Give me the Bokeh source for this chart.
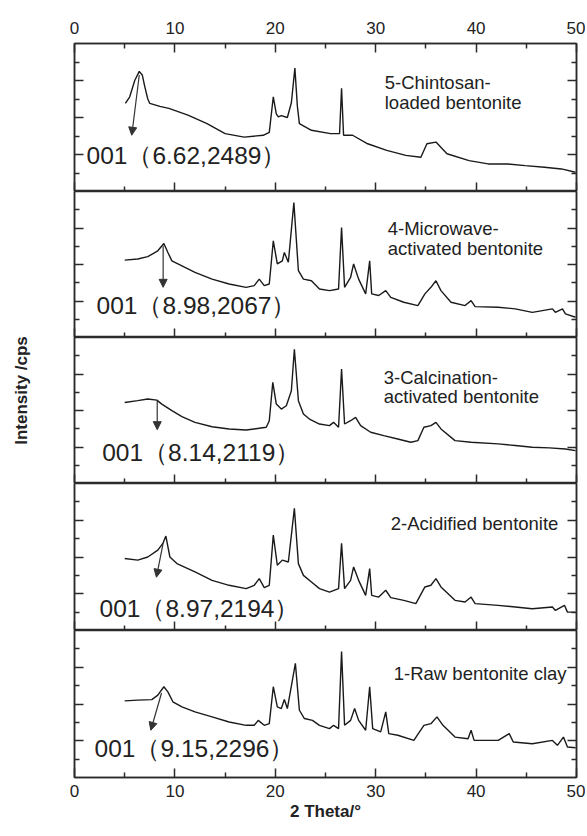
import math
from bokeh.plotting import figure
from bokeh.layouts import column, row
from bokeh.models import FixedTicker, LinearAxis, Label, Arrow, NormalHead, Range1d
from bokeh.embed import file_html
from bokeh.resources import INLINE

# ---------------- data ----------------
X_MAJOR = [0, 10, 20, 30, 40, 50]
X_MINOR = [5, 15, 25, 35, 45]
Y_MAJOR = [2, 4, 6]
Y_MINOR = [1, 3, 5, 7]

# 5 - Chitosan-loaded bentonite (top panel)
theta5 = [5.07, 5.5, 6.0, 6.45, 6.75, 7.0, 7.3, 7.5, 8.5, 9.4, 11.3, 13.2, 15.0, 16.9, 18.8,
          19.4, 19.8, 20.1, 20.3, 20.6, 21.2, 21.6, 21.95, 22.2, 22.4, 23.6, 25.5, 26.4, 26.6,
          26.8, 27.7, 29.2, 31.1, 33.0, 34.5, 35.1, 36.0, 37.1, 39.3, 41.2, 43.1, 44.9, 46.8,
          48.5, 49.9]
inten5 = [4.76, 5.12, 6.0, 6.49, 6.3, 5.67, 5.0, 4.76, 4.6, 4.49, 4.13, 3.67, 3.13, 2.94, 3.04,
          3.2, 5.12, 4.2, 4.03, 4.1, 4.0, 4.8, 6.67, 4.6, 3.67, 3.31, 3.13, 3.13, 5.58,
          3.04, 3.04, 2.58, 2.22, 1.95, 1.85, 2.58, 2.67, 2.04, 1.67, 1.49, 1.49, 1.4, 1.31,
          1.22, 1.04]

# 4 - Microwave-activated bentonite
theta4 = [5.0, 6.3, 7.3, 8.3, 8.9, 9.3, 9.7, 10.7, 12.0, 13.7, 15.4, 17.1, 17.9, 18.4, 18.9,
          19.4, 19.8, 20.2, 20.7, 20.9, 21.3, 21.85, 22.3, 22.8, 23.6, 24.4, 25.4, 26.3, 26.6,
          26.9, 27.5, 27.8, 28.3, 29.0, 29.4, 29.6, 30.3, 31.0, 31.5, 32.8, 34.2, 34.9, 35.5,
          36.0, 36.5, 37.5, 38.9, 39.5, 39.9, 42.2, 43.9, 45.6, 47.6, 47.9, 48.6, 48.9, 49.9]
inten4 = [4.24, 4.3, 4.43, 4.75, 5.15, 4.66, 4.2, 3.93, 3.57, 3.2, 2.93, 2.75, 2.84, 3.2, 2.84,
          2.93, 5.3, 4.03, 4.2, 4.66, 4.12, 7.4, 3.66, 3.2, 3.11, 2.66, 2.57, 2.66, 6.03,
          2.75, 3.3, 4.03, 3.2, 2.39, 4.2, 2.39, 2.3, 2.57, 2.2, 1.93, 1.75, 2.39, 2.75,
          3.11, 2.57, 1.93, 1.75, 2.02, 1.69, 1.66, 1.57, 1.38, 1.57, 1.38, 1.57, 1.29, 1.11]

# 3 - Calcination-activated bentonite
theta3 = [5.0, 6.3, 7.3, 8.2, 8.7, 9.7, 10.7, 12.0, 13.7, 15.4, 17.1, 19.1, 19.4, 19.75, 20.1,
          20.6, 21.1, 21.6, 21.9, 22.3, 22.8, 23.4, 24.4, 25.4, 25.8, 26.3, 26.6, 26.9, 27.5,
          28.0, 28.5, 29.5, 30.8, 32.2, 33.5, 34.2, 34.8, 35.5, 36.0, 36.5, 37.9, 39.5, 42.2,
          43.9, 45.6, 47.3, 48.9, 49.9]
inten3 = [4.44, 4.54, 4.63, 4.57, 4.35, 3.99, 3.66, 3.35, 3.11, 2.99, 2.93, 3.08, 3.44, 5.54, 4.35,
          4.08, 4.26, 5.08, 7.36, 4.54, 3.81, 3.53, 3.26, 3.17, 3.35, 3.08, 6.27, 3.26, 3.44,
          3.62, 3.17, 2.81, 2.62, 2.44, 2.26, 2.35, 3.08, 3.17, 3.35, 2.99, 2.35, 2.26, 2.17,
          2.08, 1.99, 1.95, 1.89, 1.8]

# 2 - Acidified bentonite
theta2 = [5.0, 6.3, 7.3, 8.3, 8.8, 9.1, 9.5, 10.2, 12.0, 13.7, 15.4, 17.1, 17.9, 18.4, 18.9,
          19.4, 19.8, 20.2, 20.7, 21.3, 21.9, 22.3, 22.8, 23.6, 24.4, 25.4, 26.3, 26.6, 26.9,
          27.5, 27.8, 28.3, 29.0, 29.4, 29.6, 30.3, 31.0, 31.5, 32.8, 34.0, 34.9, 35.5, 36.0,
          36.5, 37.9, 38.9, 39.5, 39.9, 42.2, 43.9, 45.6, 47.6, 47.9, 48.8, 49.1, 49.9]
inten2 = [3.92, 3.83, 4.0, 4.37, 4.74, 5.14, 4.0, 3.64, 3.19, 2.73, 2.46, 2.28, 2.46, 2.82, 2.33,
          2.46, 5.19, 3.55, 3.83, 3.73, 6.65, 3.64, 3.0, 2.64, 2.28, 2.09, 2.28, 4.74, 2.28,
          2.73, 3.46, 2.73, 1.91, 3.37, 1.91, 1.82, 2.19, 1.79, 1.64, 1.46, 2.37, 2.46, 2.82,
          2.37, 1.64, 1.55, 1.82, 1.46, 1.37, 1.28, 1.18, 1.28, 1.09, 1.37, 1.0, 1.0]

# 1 - Raw bentonite clay (bottom panel)
theta1 = [5.0, 6.3, 7.7, 8.3, 8.9, 9.3, 9.8, 10.7, 12.0, 13.7, 15.4, 17.1, 17.9, 18.3, 18.9,
          19.4, 19.8, 20.2, 20.6, 20.9, 21.2, 22.0, 22.4, 22.9, 23.7, 24.4, 25.4, 25.8, 26.3,
          26.6, 26.9, 27.5, 27.9, 28.3, 29.0, 29.4, 29.7, 30.5, 31.0, 31.3, 32.2, 33.8, 34.8,
          35.5, 36.1, 36.7, 37.9, 39.2, 39.5, 39.8, 42.2, 43.3, 43.7, 45.6, 47.6, 48.1, 48.7,
          49.1, 49.9]
inten1 = [4.17, 4.21, 4.24, 4.48, 4.94, 4.66, 4.12, 3.84, 3.57, 3.3, 3.02, 2.84, 2.84, 3.11, 2.84,
          2.93, 4.94, 3.84, 3.75, 4.24, 3.75, 6.21, 3.66, 3.21, 3.11, 2.84, 2.66, 2.84, 2.66,
          6.85, 2.84, 3.11, 3.75, 3.11, 2.57, 4.94, 2.66, 2.48, 3.57, 2.39, 2.3, 2.02, 2.84,
          2.93, 3.3, 2.84, 2.2, 2.11, 2.57, 2.02, 2.02, 2.39, 1.93, 1.84, 2.02, 1.75, 2.2,
          1.66, 1.62]

sample_lines = [
    ["5-Chintosan-", "loaded bentonite"],
    ["4-Microwave-", "activated bentonite"],
    ["3-Calcination-", "activated bentonite"],
    ["2-Acidified bentonite"],
    ["1-Raw bentonite clay"],
]
peak_texts = [
    "001（6.62,2489）",
    "001（8.98,2067）",
    "001（8.14,2119）",
    "001（8.97,2194）",
    "001（9.15,2296）",
]
# arrows from the 001 reflection toward its annotation
arrow_x0 = [6.45, 8.83, 8.24, 8.83, 8.67]
arrow_y0 = [6.3, 5.03, 4.54, 4.75, 4.6]
arrow_x1 = [5.7, 8.83, 8.24, 8.16, 7.6]
arrow_y1 = [3.04, 2.75, 2.95, 2.9, 2.57]

# ---------------- layout / style ----------------
name_x = [30.9, 31.2, 30.8, 31.5, 31.8]
name_y = [[5.9, 4.82], [5.96, 4.86], [5.79, 4.75], [5.85], [5.68]]
peak_x = [1.2, 2.2, 2.76, 2.5, 2.0]
peak_y = [1.94, 1.75, 1.69, 1.2, 1.58]
frame_heights = [148, 146, 146, 147, 147]

INK = "#222222"
FRAME = "#2b2b2b"
FONT = "Liberation Sans"
TOTAL_H = 43 + sum(frame_heights) + 49
LABEL_W = 44

series = [(theta5, inten5), (theta4, inten4), (theta3, inten3), (theta2, inten2), (theta1, inten1)]


def style_axis(ax, show_labels, tick_values):
    ax.axis_line_color = FRAME
    ax.axis_line_width = 1.5
    ax.major_tick_in = 9
    ax.major_tick_out = 0
    ax.minor_tick_in = 5
    ax.minor_tick_out = 0
    ax.major_tick_line_color = FRAME
    ax.major_tick_line_width = 1.5
    ax.minor_tick_line_color = FRAME
    ax.minor_tick_line_width = 1.5
    if show_labels:
        ax.major_label_text_font = FONT
        ax.major_label_text_font_size = "17px"
        ax.major_label_text_color = INK
    else:
        ax.major_label_overrides = {t: "" for t in tick_values}
        ax.major_label_text_font_size = "0px"
        ax.major_label_standoff = 0


panels = []
for i, (tx, ty) in enumerate(series):
    top = i == 0
    bottom = i == len(series) - 1
    p = figure(frame_width=502, frame_height=frame_heights[i],
               x_range=Range1d(0, 50), y_range=Range1d(0, 8),
               output_backend="svg", toolbar_location=None,
               x_axis_location=None, y_axis_location=None,
               min_border=0, min_border_left=30, min_border_right=9,
               min_border_top=43 if top else 0, min_border_bottom=49 if bottom else 0)
    p.outline_line_color = FRAME
    p.outline_line_width = 1.5
    p.background_fill_color = "white"
    p.border_fill_color = "white"
    p.xgrid.grid_line_color = None
    p.ygrid.grid_line_color = None

    xb = LinearAxis(ticker=FixedTicker(ticks=X_MAJOR, minor_ticks=X_MINOR))
    style_axis(xb, bottom, X_MAJOR)
    if bottom:
        xb.major_label_standoff = 7
        xb.axis_label = "2 Theta/°"
        xb.axis_label_text_font = FONT
        xb.axis_label_text_font_style = "bold"
        xb.axis_label_text_font_size = "17px"
        xb.axis_label_text_color = INK
        xb.axis_label_standoff = 2
    p.add_layout(xb, "below")

    if top:
        xt = LinearAxis(ticker=FixedTicker(ticks=X_MAJOR, minor_ticks=X_MINOR))
        style_axis(xt, True, X_MAJOR)
        xt.major_label_standoff = 10
        p.add_layout(xt, "above")

    for side in ("left", "right"):
        ya = LinearAxis(ticker=FixedTicker(ticks=Y_MAJOR, minor_ticks=Y_MINOR))
        style_axis(ya, False, Y_MAJOR)
        p.add_layout(ya, side)

    p.line(tx, ty, line_color="#1a1a1a", line_width=1.4)

    for line_text, ly in zip(sample_lines[i], name_y[i]):
        p.add_layout(Label(x=name_x[i], y=ly, text=line_text, text_font=FONT,
                           text_font_size="18.5px", text_color=INK,
                           text_align="left", text_baseline="middle"))
    p.add_layout(Label(x=peak_x[i], y=peak_y[i], text=peak_texts[i], text_font=FONT,
                       text_font_size="24.5px", text_color=INK,
                       text_align="left", text_baseline="middle"))
    p.add_layout(Arrow(x_start=arrow_x0[i], y_start=arrow_y0[i],
                       x_end=arrow_x1[i], y_end=arrow_y1[i],
                       line_color="#333333", line_width=1.2,
                       end=NormalHead(size=8, fill_color="#333333", line_color="#333333",
                                      line_width=1)))
    panels.append(p)

# narrow strip on the left holding the rotated y-axis title
ylab = figure(width=LABEL_W, height=TOTAL_H, x_range=Range1d(0, LABEL_W), y_range=Range1d(0, TOTAL_H),
              output_backend="svg", toolbar_location=None,
              x_axis_location=None, y_axis_location=None, min_border=0)
ylab.outline_line_color = None
ylab.border_fill_color = "white"
ylab.background_fill_color = "white"
ylab.xgrid.grid_line_color = None
ylab.ygrid.grid_line_color = None
for r in list(ylab.renderers):
    pass
ylab.add_layout(Label(x=21, y=TOTAL_H - 390, text="Intensity /cps", angle=math.pi / 2,
                      text_font=FONT, text_font_style="bold", text_font_size="17px",
                      text_color=INK, text_align="center", text_baseline="middle"))

layout = row(ylab, column(*panels, spacing=0), spacing=0)
open("out.html", "w").write(file_html(layout, INLINE, title="XRD patterns"))
